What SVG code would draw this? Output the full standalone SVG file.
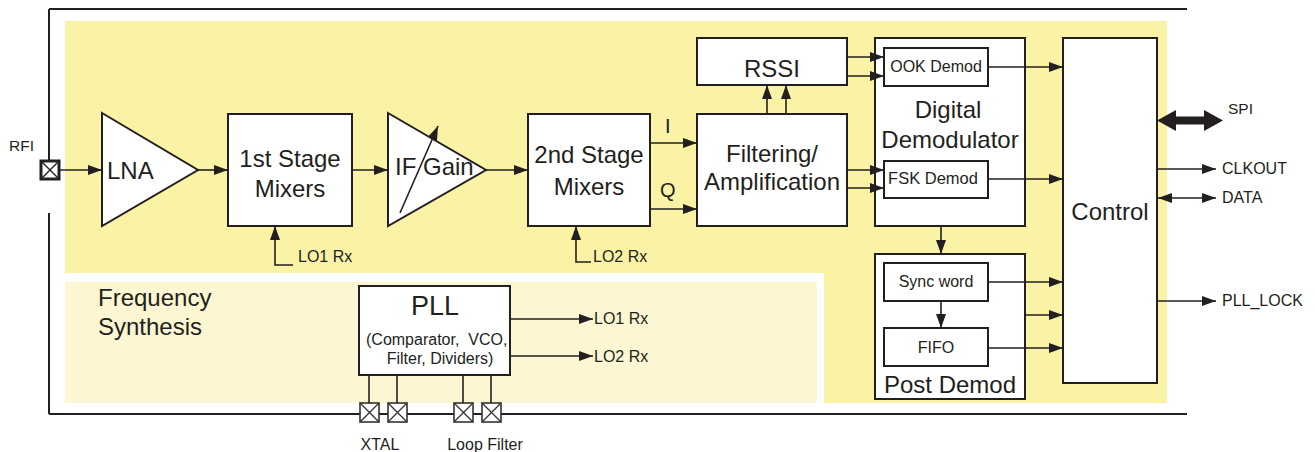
<svg xmlns="http://www.w3.org/2000/svg" width="1315" height="452" viewBox="0 0 1315 452">
<defs>
<style>
.box{fill:#fff;stroke:#231f20;stroke-width:2}
.ln{fill:none;stroke:#231f20;stroke-width:1.6}
.t{font-family:"Liberation Sans",Arial,sans-serif;fill:#231f20}
.big{font-size:24px}
.sm{font-size:16px}
.mid{text-anchor:middle}
.pad{fill:#fff;stroke:#333;stroke-width:1.6}
</style>
<marker id="ah" viewBox="0 0 14 10" refX="14" refY="5" markerUnits="userSpaceOnUse" markerWidth="14" markerHeight="10" orient="auto-start-reverse">
<path d="M0,0 L14,5 L0,10 Z" fill="#231f20"/>
</marker>
</defs>

<!-- background regions -->
<g id="background">
<path d="M65,21 H1167 V403 H824 V273 H65 Z" fill="#faf3a6"/>
<rect x="65" y="282" width="752" height="121" fill="#fcf7d2"/>
<line x1="49" y1="9" x2="1187" y2="9" stroke="#231f20" stroke-width="2"/>
<line x1="49" y1="414" x2="1187" y2="414" stroke="#231f20" stroke-width="2"/>
<line x1="49" y1="9" x2="49" y2="161" stroke="#231f20" stroke-width="2"/>
<line x1="49" y1="213" x2="49" y2="414" stroke="#231f20" stroke-width="2"/>
</g>

<g id="rfi">
<rect x="41" y="161" width="18" height="18" fill="#fff" stroke="#231f20" stroke-width="3"/>
<path d="M42,162 L58,178 M58,162 L42,178" stroke="#231f20" stroke-width="1.4"/>
<text class="t" x="9" y="151" font-size="15.5">RFI</text>
</g>

<g id="lna">
<polygon points="102,113 198,170 102,226" class="box"/>
<text class="t big" x="107" y="179">LNA</text>
</g>

<g id="mixer1">
<rect x="228" y="114" width="124" height="112" class="box"/>
<text class="t big mid" x="290" y="167">1st Stage</text>
<text class="t big mid" x="290" y="197">Mixers</text>
</g>

<g id="ifgain">
<polygon points="388,113 486,170 388,226" class="box"/>
<text class="t big" x="395" y="175">IF Gain</text>
<line x1="400" y1="213" x2="438" y2="126" class="ln" marker-end="url(#ah)"/>
</g>

<g id="mixer2">
<rect x="528" y="114" width="122" height="112" class="box"/>
<text class="t big mid" x="589" y="163">2nd Stage</text>
<text class="t big mid" x="589" y="195">Mixers</text>
</g>

<g id="filtering">
<rect x="697" y="114" width="150" height="112" class="box"/>
<text class="t big mid" x="772" y="162">Filtering/</text>
<text class="t big mid" x="772" y="190">Amplification</text>
</g>

<g id="rssi">
<rect x="697" y="38" width="150" height="47" class="box"/>
<text class="t big mid" x="772" y="77">RSSI</text>
</g>

<g id="digital-demod">
<rect x="875" y="38" width="150" height="188" class="box"/>
<text class="t big mid" x="948" y="118">Digital</text>
<text class="t big mid" x="950" y="148">Demodulator</text>
</g>

<g id="ook">
<rect x="884" y="48" width="104" height="38" class="box"/>
<text class="t sm mid" x="936" y="72">OOK Demod</text>
</g>

<g id="fsk">
<rect x="884" y="161" width="104" height="37" class="box"/>
<text class="t mid" x="933" y="184" font-size="16.5">FSK Demod</text>
</g>

<g id="post-demod">
<rect x="875" y="254" width="150" height="145" class="box"/>
<text class="t big mid" x="950" y="393">Post Demod</text>
</g>

<g id="sync">
<rect x="884" y="263" width="104" height="38" class="box"/>
<text class="t sm mid" x="936" y="287">Sync word</text>
</g>

<g id="fifo">
<rect x="884" y="328" width="104" height="38" class="box"/>
<text class="t sm mid" x="936" y="353">FIFO</text>
</g>

<g id="control">
<rect x="1063" y="38" width="94" height="345" class="box"/>
<text class="t big mid" x="1110" y="220">Control</text>
</g>

<g id="freq-synth">
<text class="t big" x="98" y="306">Frequency</text>
<text class="t big" x="98" y="335">Synthesis</text>
</g>

<g id="pll">
<rect x="359" y="286" width="151" height="89" class="box"/>
<text class="t mid" x="435" y="315" font-size="27">PLL</text>
<text class="t sm" x="366" y="345" xml:space="preserve">(Comparator,  VCO,</text>
<text class="t sm mid" x="440" y="364">Filter, Dividers)</text>
</g>

<g id="pins">
<rect x="360" y="403" width="19" height="19" class="pad"/>
<path d="M360,403 L379,422 M379,403 L360,422" stroke="#333" stroke-width="1.3"/>
<rect x="388" y="403" width="19" height="19" class="pad"/>
<path d="M388,403 L407,422 M407,403 L388,422" stroke="#333" stroke-width="1.3"/>
<rect x="454" y="403" width="19" height="19" class="pad"/>
<path d="M454,403 L473,422 M473,403 L454,422" stroke="#333" stroke-width="1.3"/>
<rect x="482" y="403" width="19" height="19" class="pad"/>
<path d="M482,403 L501,422 M501,403 L482,422" stroke="#333" stroke-width="1.3"/>
<text class="t sm mid" x="380" y="450">XTAL</text>
<text class="t sm mid" x="485" y="450">Loop Filter</text>
</g>

<g id="labels">
<text class="t sm" x="298" y="262">LO1 Rx</text>
<text class="t sm" x="593" y="262">LO2 Rx</text>
<text class="t" x="665" y="133" font-size="20">I</text>
<text class="t" x="660" y="197" font-size="20">Q</text>
<text class="t sm" x="594" y="324">LO1 Rx</text>
<text class="t sm" x="594" y="362">LO2 Rx</text>
<text class="t" x="1228" y="114" font-size="15.5">SPI</text>
<text class="t sm" x="1222" y="174">CLKOUT</text>
<text class="t sm" x="1222" y="203">DATA</text>
<text class="t sm" x="1222" y="306">PLL_LOCK</text>
</g>

<g id="connectors">
<line x1="59" y1="170" x2="102" y2="170" class="ln" marker-end="url(#ah)"/>
<line x1="198" y1="170" x2="228" y2="170" class="ln" marker-end="url(#ah)"/>
<line x1="352" y1="170" x2="388" y2="170" class="ln" marker-end="url(#ah)"/>
<line x1="486" y1="170" x2="528" y2="170" class="ln" marker-end="url(#ah)"/>
<polyline points="293,265 275,265 275,226" class="ln" marker-end="url(#ah)"/>
<polyline points="591,262 576,262 576,226" class="ln" marker-end="url(#ah)"/>
<line x1="650" y1="143" x2="697" y2="143" class="ln" marker-end="url(#ah)"/>
<line x1="650" y1="209" x2="697" y2="209" class="ln" marker-end="url(#ah)"/>
<line x1="767" y1="114" x2="767" y2="85" class="ln" marker-end="url(#ah)"/>
<line x1="786" y1="114" x2="786" y2="85" class="ln" marker-end="url(#ah)"/>
<line x1="847" y1="57" x2="884" y2="57" class="ln" marker-end="url(#ah)"/>
<line x1="847" y1="76" x2="884" y2="76" class="ln" marker-end="url(#ah)"/>
<line x1="847" y1="170" x2="884" y2="170" class="ln" marker-end="url(#ah)"/>
<line x1="847" y1="188" x2="884" y2="188" class="ln" marker-end="url(#ah)"/>
<line x1="988" y1="67" x2="1063" y2="67" class="ln" marker-end="url(#ah)"/>
<line x1="988" y1="179" x2="1063" y2="179" class="ln" marker-end="url(#ah)"/>
<line x1="941" y1="226" x2="941" y2="254" class="ln" marker-end="url(#ah)"/>
<line x1="941" y1="301" x2="941" y2="328" class="ln" marker-end="url(#ah)"/>
<line x1="988" y1="282" x2="1063" y2="282" class="ln" marker-end="url(#ah)"/>
<line x1="1025" y1="315" x2="1063" y2="315" class="ln" stroke-width="2.6" marker-end="url(#ah)"/>
<line x1="988" y1="348" x2="1063" y2="348" class="ln" marker-end="url(#ah)"/>
<polygon points="1157,120.5 1176,110 1176,116.5 1204,116.5 1204,110 1223,120.5 1204,131 1204,124.5 1176,124.5 1176,131" fill="#231f20"/>
<line x1="1157" y1="169" x2="1216" y2="169" class="ln" marker-end="url(#ah)"/>
<line x1="1158" y1="198" x2="1216" y2="198" class="ln" marker-start="url(#ah)" marker-end="url(#ah)"/>
<line x1="1157" y1="301" x2="1216" y2="301" class="ln" marker-end="url(#ah)"/>
<line x1="510" y1="319" x2="593" y2="319" class="ln" marker-end="url(#ah)"/>
<line x1="510" y1="356" x2="593" y2="356" class="ln" marker-end="url(#ah)"/>
<line x1="369" y1="375" x2="369" y2="403" class="ln"/>
<line x1="397" y1="375" x2="397" y2="403" class="ln"/>
<line x1="463" y1="375" x2="463" y2="403" class="ln"/>
<line x1="491" y1="375" x2="491" y2="403" class="ln"/>
</g>
</svg>
